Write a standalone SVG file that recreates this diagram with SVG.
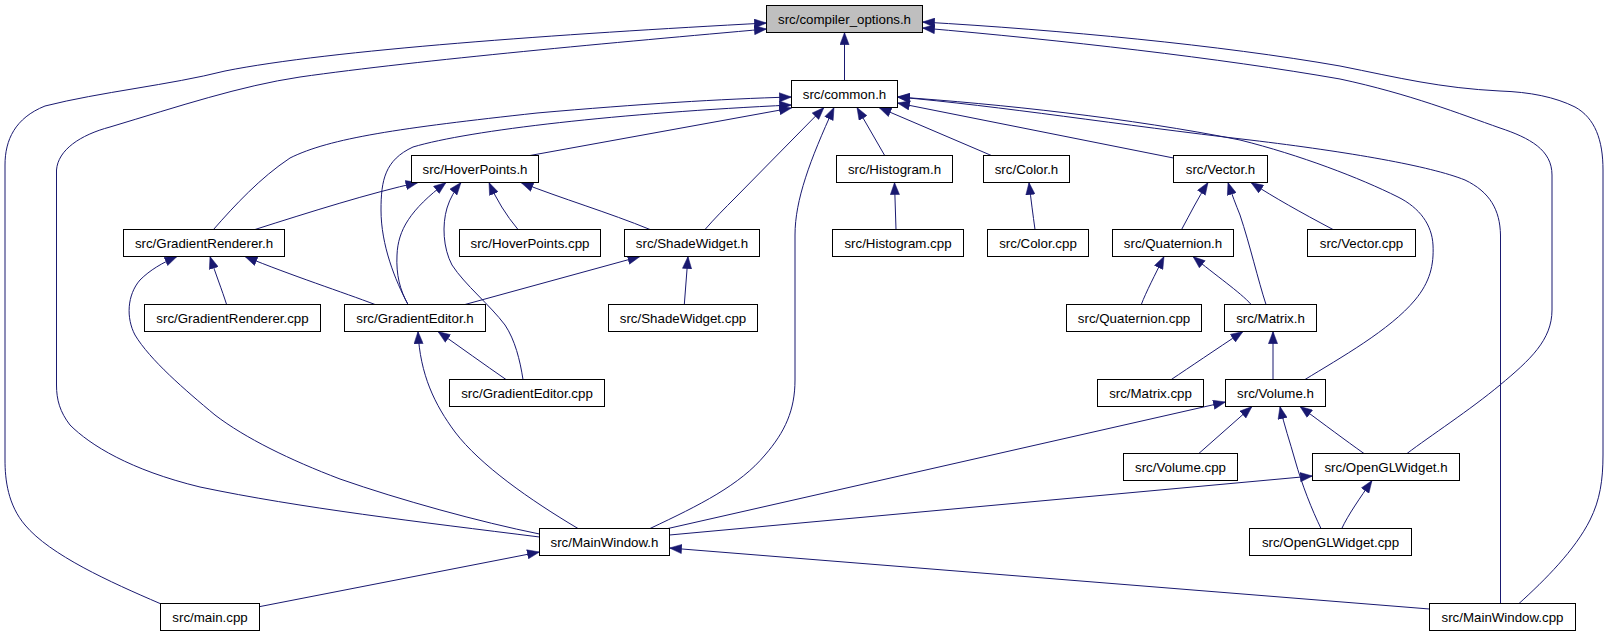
<svg xmlns="http://www.w3.org/2000/svg" width="1608" height="634" viewBox="0 0 1608 634">
<style>
.node rect{fill:#ffffff;stroke:#000000;stroke-width:1}
.node.root rect{fill:#bfbfbf}
.node text{font-family:"Liberation Sans",Arial,Helvetica,sans-serif;font-size:13.3px;text-anchor:middle;fill:#000000}
.edges path{fill:none;stroke:#191970;stroke-width:1;marker-end:url(#ah)}
</style>
<defs>
<marker id="ah" viewBox="0 0 12.5 10" refX="12.5" refY="5" markerWidth="12.5" markerHeight="10" markerUnits="userSpaceOnUse" orient="auto">
<path d="M0.3,0.4 L12.5,5 L0.3,9.6 z" fill="#191970" stroke="#191970" stroke-width="0.5"/>
</marker>
</defs>
<rect x="0" y="0" width="1608" height="634" fill="#ffffff"/>
<g id="edges" class="edges">
<path d="M844.5,80.5 L844.5,32.5"/>
<path d="M160,603.5 C110,582 50,555 25,525 C8,505 5,480 5,460 L5,165 C5,140 15,118 45,106 C100,92 170,85 225,71 C330,50 560,34 766.5,23"/>
<path d="M539.5,537 C420,522 300,508 200,487 C130,470 90,445 70,425 C60,412 56.5,400 56.5,385 L56.5,170 C58,150 80,135 110,127 C180,106 240,86 300,77 C420,60 620,42 766.5,29"/>
<path d="M1407,453.5 C1430,436 1470,410 1500,385 C1530,360 1552,340 1552,310 L1552,175 C1552,150 1530,138 1500,128 C1460,114 1410,94 1340,79 C1220,58 1060,40 922.5,28"/>
<path d="M1519,603.5 C1545,580 1575,550 1590,520 C1600,500 1603,480 1603,455 L1603,170 C1603,140 1595,118 1575,107 C1555,97 1530,92 1500,91 C1440,88 1400,78 1340,66 C1220,45 1060,30 922.5,22"/>
<path d="M213.5,229.5 C235,205 260,178 290,158 C330,138 400,128 537,113 C640,104 720,99 791.5,97"/>
<path d="M408,304.5 C395,280 381,245 381,210 C381,180 385,160 413,147 C470,130 620,113 791.5,105"/>
<path d="M530,155.5 L791.5,108"/>
<path d="M705,229.5 C715,218 725,208 735,198 L824,107.5"/>
<path d="M650,528.5 C700,505 740,485 765,455 C785,432 795,410 795,380 L795,235 C795,200 810,160 834,107.5"/>
<path d="M884.7,155.5 L857,107.5"/>
<path d="M991.4,155.5 L879,107.5"/>
<path d="M1173.5,158 L897.5,103"/>
<path d="M1305,379.5 C1340,358 1390,330 1415,300 C1430,282 1434,265 1433,245 C1432,225 1420,208 1398,197 C1360,178 1300,155 1240,140 C1130,118 1000,104 897.5,97"/>
<path d="M1500.5,603.5 L1500.5,235 C1500,210 1490,192 1465,180 C1430,166 1350,152 1250,140 C1120,125 1000,106 897.5,97"/>
<path d="M255,229.5 C310,212 370,193 418,182.5"/>
<path d="M408,304.5 C400,290 396,275 397,255 C398,230 410,210 446,182.5"/>
<path d="M523,379.5 C520,360 515,340 505,325 C490,305 465,285 452,265 C443,248 442,225 447,208 C450,198 455,190 461,182.5"/>
<path d="M518,229.5 Q500,208 489,182.5"/>
<path d="M650,229.5 C610,213 560,198 521,182.5"/>
<path d="M896,229.5 L894.5,182.5"/>
<path d="M1035,229.5 C1033,215 1031,200 1029,182.5"/>
<path d="M1181.6,229.5 C1190,214 1198,198 1208,182.5"/>
<path d="M1266,304.5 C1258,280 1250,245 1240,215 C1236,205 1232,195 1228,182.5"/>
<path d="M1333,229.5 C1300,212 1275,198 1251,182.5"/>
<path d="M226.6,304.5 C222,290 216,275 210,256.5"/>
<path d="M375,304.5 C345,293 290,275 245,256.5"/>
<path d="M539.5,534 C480,522 400,500 340,479 C290,460 245,438 215,415 C185,390 150,360 135,335 C126,318 127,295 140,280 C150,270 162,263 177,256.5"/>
<path d="M465,304.5 L640,256.5"/>
<path d="M684.3,304.5 L688,256.5"/>
<path d="M1141.3,304.5 C1146,292 1155,275 1164,256.5"/>
<path d="M1251.2,304.5 C1240,292 1215,275 1193,256.5"/>
<path d="M506,379.5 C485,365 460,347 438,331.5"/>
<path d="M578,528.5 C530,500 480,465 455,432 C435,405 420,375 418,331.5"/>
<path d="M1171.3,379.5 C1190,367 1215,350 1243,331.5"/>
<path d="M1273,379.5 L1273,331.5"/>
<path d="M1198.8,453.5 L1252,406.5"/>
<path d="M1364,453.5 C1345,440 1325,425 1300,406.5"/>
<path d="M1321,528.5 C1312,510 1302,485 1295,460 C1290,442 1284,425 1280,406.5"/>
<path d="M668,528.5 L1225.5,402"/>
<path d="M669.5,535 L1312.5,476"/>
<path d="M1341.8,528.5 C1348,515 1360,498 1372,480.5"/>
<path d="M259.3,606.7 L539.5,552"/>
<path d="M1429.5,609 L669.5,548"/>
</g>
<g id="n_compiler_options_h" class="node root"><rect x="766.5" y="5.5" width="156" height="27"/><text x="844.5" y="23.5">src/compiler_options.h</text></g>
<g id="n_common_h" class="node"><rect x="791.5" y="80.5" width="106" height="27"/><text x="844.5" y="98.5">src/common.h</text></g>
<g id="n_HoverPoints_h" class="node"><rect x="411.5" y="155.5" width="127" height="27"/><text x="475" y="173.5">src/HoverPoints.h</text></g>
<g id="n_Histogram_h" class="node"><rect x="836.5" y="155.5" width="116" height="27"/><text x="894.5" y="173.5">src/Histogram.h</text></g>
<g id="n_Color_h" class="node"><rect x="983.5" y="155.5" width="86" height="27"/><text x="1026.5" y="173.5">src/Color.h</text></g>
<g id="n_Vector_h" class="node"><rect x="1173.5" y="155.5" width="94" height="27"/><text x="1220.5" y="173.5">src/Vector.h</text></g>
<g id="n_GradientRenderer_h" class="node"><rect x="123.5" y="229.5" width="161" height="27"/><text x="204" y="247.5">src/GradientRenderer.h</text></g>
<g id="n_HoverPoints_cpp" class="node"><rect x="459.5" y="229.5" width="141" height="27"/><text x="530" y="247.5">src/HoverPoints.cpp</text></g>
<g id="n_ShadeWidget_h" class="node"><rect x="624.5" y="229.5" width="135" height="27"/><text x="692" y="247.5">src/ShadeWidget.h</text></g>
<g id="n_Histogram_cpp" class="node"><rect x="832.5" y="229.5" width="131" height="27"/><text x="898" y="247.5">src/Histogram.cpp</text></g>
<g id="n_Color_cpp" class="node"><rect x="987.5" y="229.5" width="101" height="27"/><text x="1038" y="247.5">src/Color.cpp</text></g>
<g id="n_Quaternion_h" class="node"><rect x="1112.5" y="229.5" width="121" height="27"/><text x="1173" y="247.5">src/Quaternion.h</text></g>
<g id="n_Vector_cpp" class="node"><rect x="1307.5" y="229.5" width="108" height="27"/><text x="1361.5" y="247.5">src/Vector.cpp</text></g>
<g id="n_GradientRenderer_cpp" class="node"><rect x="144.5" y="304.5" width="176" height="27"/><text x="232.5" y="322.5">src/GradientRenderer.cpp</text></g>
<g id="n_GradientEditor_h" class="node"><rect x="344.5" y="304.5" width="141" height="27"/><text x="415" y="322.5">src/GradientEditor.h</text></g>
<g id="n_ShadeWidget_cpp" class="node"><rect x="608.5" y="304.5" width="149" height="27"/><text x="683" y="322.5">src/ShadeWidget.cpp</text></g>
<g id="n_Quaternion_cpp" class="node"><rect x="1066.5" y="304.5" width="135" height="27"/><text x="1134" y="322.5">src/Quaternion.cpp</text></g>
<g id="n_Matrix_h" class="node"><rect x="1224.5" y="304.5" width="92" height="27"/><text x="1270.5" y="322.5">src/Matrix.h</text></g>
<g id="n_GradientEditor_cpp" class="node"><rect x="449.5" y="379.5" width="155" height="27"/><text x="527" y="397.5">src/GradientEditor.cpp</text></g>
<g id="n_Matrix_cpp" class="node"><rect x="1097.5" y="379.5" width="106" height="27"/><text x="1150.5" y="397.5">src/Matrix.cpp</text></g>
<g id="n_Volume_h" class="node"><rect x="1225.5" y="379.5" width="100" height="27"/><text x="1275.5" y="397.5">src/Volume.h</text></g>
<g id="n_Volume_cpp" class="node"><rect x="1123.5" y="453.5" width="114" height="27"/><text x="1180.5" y="471.5">src/Volume.cpp</text></g>
<g id="n_OpenGLWidget_h" class="node"><rect x="1312.5" y="453.5" width="147" height="27"/><text x="1386" y="471.5">src/OpenGLWidget.h</text></g>
<g id="n_MainWindow_h" class="node"><rect x="539.5" y="528.5" width="130" height="27"/><text x="604.5" y="546.5">src/MainWindow.h</text></g>
<g id="n_OpenGLWidget_cpp" class="node"><rect x="1249.5" y="528.5" width="162" height="27"/><text x="1330.5" y="546.5">src/OpenGLWidget.cpp</text></g>
<g id="n_main_cpp" class="node"><rect x="160.5" y="603.5" width="99" height="27"/><text x="210" y="621.5">src/main.cpp</text></g>
<g id="n_MainWindow_cpp" class="node"><rect x="1429.5" y="603.5" width="146" height="27"/><text x="1502.5" y="621.5">src/MainWindow.cpp</text></g>
</svg>
